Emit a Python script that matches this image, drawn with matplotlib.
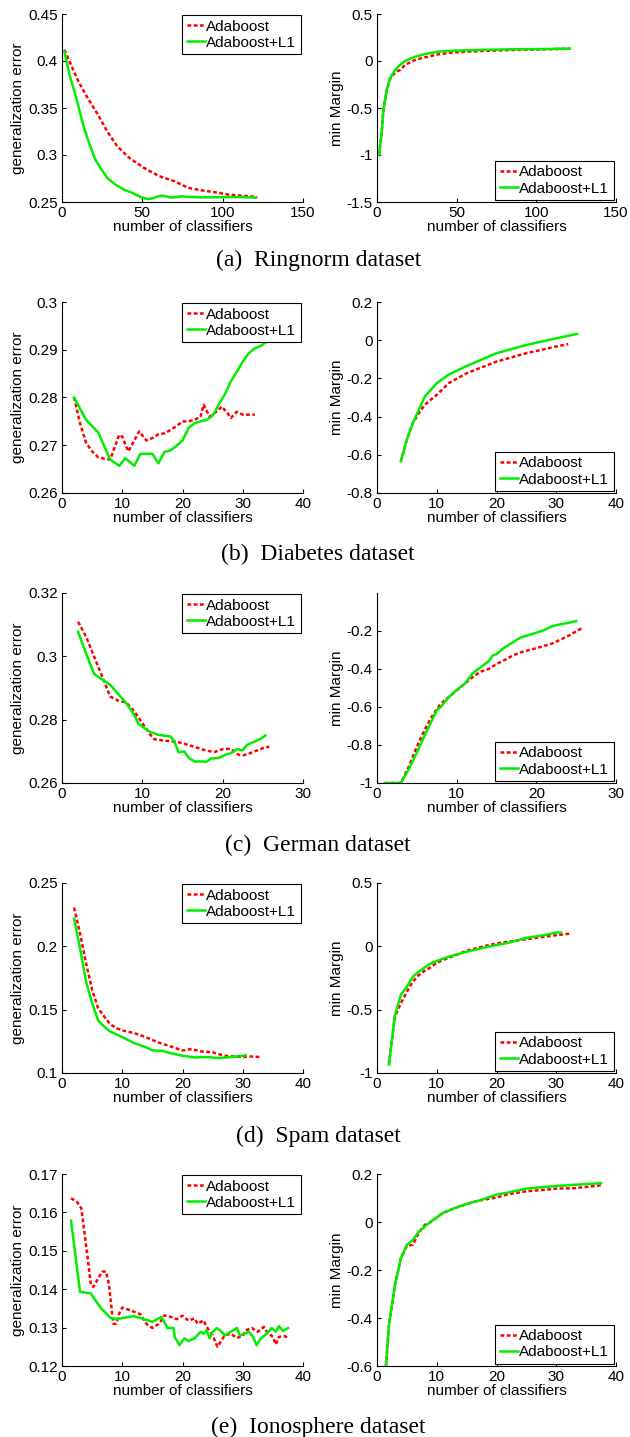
import matplotlib.pyplot as plt
from matplotlib.ticker import FormatStrFormatter

plt.rcParams['font.family'] = ['Liberation Sans', 'DejaVu Sans']

# (a) Ringnorm - generalization error
ring_err_ada_x = [1.5, 6.1, 10.3, 15.5, 21.8, 28.2, 34.5, 41.8, 51.3, 60.7, 70.2, 78.6, 87, 95.4, 103.8, 112, 121.6]
ring_err_ada = [0.412, 0.394, 0.378, 0.362, 0.3445, 0.325, 0.309, 0.297, 0.286, 0.2773, 0.272, 0.265, 0.2624, 0.2603, 0.2578, 0.2567, 0.2553]
ring_err_l1_x = [1.5, 5, 9.2, 13.4, 17.6, 20.8, 24, 28.2, 33.4, 38.7, 43.9, 49.2, 53.4, 56.5, 59.7, 62.8, 68, 74.4, 80.7, 87, 95.4, 103.8, 112, 120.6]
ring_err_l1 = [0.410, 0.3835, 0.3587, 0.3304, 0.309, 0.295, 0.2861, 0.2755, 0.2684, 0.2631, 0.2596, 0.255, 0.2532, 0.2539, 0.256, 0.2567, 0.2547, 0.256, 0.2553, 0.255, 0.255, 0.2553, 0.2553, 0.2546]
# (a) Ringnorm - min margin
ring_mar_ada_x = [1.3, 3, 4, 6.1, 8.2, 11.4, 14.6, 17.7, 24, 30.4, 38.8, 49.4, 66, 87, 108, 121]
ring_mar_ada = [-1.0, -0.75, -0.52, -0.31, -0.19, -0.12, -0.095, -0.04, 0.012, 0.04, 0.072, 0.093, 0.107, 0.118, 0.125, 0.132]
ring_mar_l1_x = [1.3, 3, 4, 6.1, 8.2, 11.4, 14.6, 17.7, 24, 30.4, 38.8, 49.4, 66, 87, 108, 121]
ring_mar_l1 = [-1.0, -0.75, -0.52, -0.307, -0.183, -0.095, -0.04, 0.001, 0.047, 0.075, 0.1, 0.11, 0.118, 0.125, 0.128, 0.132]

# (b) Diabetes
diab_err_ada_x = [2, 3, 4, 5, 6, 7, 8, 9, 9.5, 10, 11, 12, 12.8, 14, 15, 16, 17, 18, 19, 20, 21, 22, 23, 23.5, 24.5, 25, 26, 26.5, 27.5, 28, 29, 30, 31, 32]
diab_err_ada = [0.280, 0.2746, 0.2705, 0.2687, 0.2675, 0.2672, 0.267, 0.2705, 0.2722, 0.2718, 0.2687, 0.271, 0.2729, 0.271, 0.2715, 0.2723, 0.2725, 0.2732, 0.274, 0.275, 0.275, 0.2753, 0.276, 0.2785, 0.276, 0.2764, 0.2774, 0.2781, 0.2767, 0.2757, 0.277, 0.2764, 0.2764, 0.2764]
diab_err_l1_x = [2, 4, 6, 8, 9.5, 10.5, 12, 13, 15, 16, 17, 18, 19, 20, 21, 22, 23, 24, 25, 26, 27, 28, 29, 30, 31, 32, 33, 34]
diab_err_l1 = [0.280, 0.2753, 0.2727, 0.267, 0.2657, 0.2673, 0.2657, 0.2682, 0.2682, 0.2662, 0.2686, 0.2689, 0.2699, 0.271, 0.2736, 0.2746, 0.275, 0.2753, 0.2762, 0.2785, 0.2806, 0.2833, 0.2854, 0.2875, 0.2893, 0.2903, 0.2908, 0.2917]
diab_mar_ada_x = [4, 5, 6, 7, 8, 10, 12, 15, 20, 25, 30, 32]
diab_mar_ada = [-0.634, -0.52, -0.434, -0.382, -0.338, -0.286, -0.225, -0.173, -0.112, -0.068, -0.033, -0.02]
diab_mar_l1_x = [4, 5, 6, 7, 8, 10, 12, 15, 20, 25, 30, 33.5]
diab_mar_l1 = [-0.634, -0.52, -0.434, -0.364, -0.295, -0.225, -0.18, -0.135, -0.068, -0.025, 0.01, 0.033]

# (c) German
germ_err_ada_x = [2, 3, 4, 5, 6, 7, 8, 9, 10, 11, 11.5, 13, 14, 15, 16, 17, 18, 19, 20, 21, 22, 22.5, 23.5, 24, 25, 25.8]
germ_err_ada = [0.3109, 0.3062, 0.2999, 0.2936, 0.2873, 0.286, 0.2854, 0.2826, 0.2789, 0.2752, 0.2738, 0.2733, 0.2731, 0.2726, 0.2718, 0.271, 0.2702, 0.2698, 0.2707, 0.2708, 0.2689, 0.2687, 0.2695, 0.27, 0.271, 0.2715]
germ_err_l1_x = [2, 3, 4, 5, 6, 7, 8, 9, 9.5, 10, 11, 12, 13.5, 14, 14.5, 15.2, 15.8, 16.5, 17.5, 18, 18.5, 19.5, 20.5, 21, 21.8, 22.5, 23, 24, 24.8, 25.3]
germ_err_l1 = [0.3077, 0.3009, 0.2944, 0.2927, 0.291, 0.2881, 0.2852, 0.2815, 0.2787, 0.2778, 0.2761, 0.2752, 0.2747, 0.2731, 0.2697, 0.27, 0.2679, 0.2668, 0.2668, 0.2667, 0.2677, 0.2679, 0.2691, 0.2694, 0.2707, 0.2703, 0.272, 0.2731, 0.2741, 0.275]
germ_mar_ada_x = [1, 3, 4, 5, 6, 7, 8, 9, 10, 11, 12, 13, 14, 15, 16, 17, 18, 20, 22, 24, 25.8]
germ_mar_ada = [-1, -1, -0.913, -0.809, -0.718, -0.643, -0.583, -0.548, -0.513, -0.478, -0.443, -0.414, -0.4, -0.374, -0.353, -0.33, -0.313, -0.29, -0.266, -0.226, -0.183]
germ_mar_l1_x = [1, 3, 4, 5, 6, 7, 7.5, 8, 9, 10, 11, 11.5, 12, 13, 14, 14.5, 15, 16, 17, 18, 20, 21, 22, 23, 24, 25]
germ_mar_l1 = [-1, -1, -0.927, -0.84, -0.748, -0.661, -0.617, -0.6, -0.548, -0.51, -0.478, -0.452, -0.423, -0.391, -0.36, -0.33, -0.322, -0.287, -0.261, -0.235, -0.209, -0.195, -0.174, -0.165, -0.157, -0.148]

# (d) Spam
spam_err_ada_x = [2, 3, 4, 5, 6, 7, 8, 9, 10, 12, 14, 16, 18, 20, 21.5, 23, 25, 27, 28.5, 30, 31, 33]
spam_err_ada = [0.2306, 0.2101, 0.1865, 0.1656, 0.1511, 0.1446, 0.1385, 0.1354, 0.1336, 0.1315, 0.1281, 0.1241, 0.121, 0.1178, 0.1189, 0.1171, 0.1163, 0.1136, 0.1131, 0.1126, 0.1131, 0.1126]
spam_err_l1_x = [2, 3, 4, 5, 6, 7, 8, 10, 12, 14, 15, 16.5, 18, 20, 22, 24, 26, 28, 29, 30.5]
spam_err_l1 = [0.2219, 0.1983, 0.1721, 0.1551, 0.1414, 0.1367, 0.1328, 0.1283, 0.1236, 0.1202, 0.1178, 0.1176, 0.1157, 0.1136, 0.1123, 0.1126, 0.1118, 0.1126, 0.1131, 0.1139]
spam_mar_ada_x = [2, 3, 4, 5, 6, 7, 8, 9, 10, 12, 15, 18, 20, 22, 25, 28, 30, 32.5]
spam_mar_ada = [-0.926, -0.554, -0.449, -0.358, -0.279, -0.227, -0.192, -0.166, -0.129, -0.09, -0.035, 0.002, 0.023, 0.036, 0.057, 0.075, 0.088, 0.101]
spam_mar_l1_x = [2, 3, 4, 5, 6, 7, 8, 9, 10, 12, 15, 18, 20, 22, 25, 28, 30, 30.8]
spam_mar_l1 = [-0.934, -0.541, -0.384, -0.318, -0.24, -0.2, -0.166, -0.135, -0.116, -0.082, -0.043, -0.009, 0.01, 0.028, 0.067, 0.088, 0.109, 0.109]

# (e) Ionosphere
iono_err_ada_x = [1.5, 2.5, 3.2, 4.2, 4.8, 5.2, 6, 6.7, 7.3, 7.8, 8.5, 9, 9.5, 10, 11, 12, 13, 14, 15, 16, 16.5, 17, 18, 19, 20, 21, 22, 22.5, 23.5, 24, 25, 25.8, 26.5, 27, 28, 29, 30, 30.5, 31.5, 32.5, 33.5, 34, 35, 35.5, 36, 37, 37.5]
iono_err_ada = [0.1637, 0.1627, 0.1611, 0.1489, 0.1411, 0.1406, 0.1428, 0.1446, 0.1446, 0.1411, 0.131, 0.131, 0.1337, 0.1352, 0.1347, 0.1341, 0.1335, 0.131, 0.1299, 0.1309, 0.1319, 0.1332, 0.1328, 0.1322, 0.1331, 0.1318, 0.1324, 0.131, 0.1319, 0.1302, 0.128, 0.125, 0.1267, 0.128, 0.1284, 0.1273, 0.1278, 0.1293, 0.1299, 0.1289, 0.1302, 0.1289, 0.1276, 0.1256, 0.1276, 0.1278, 0.1272]
iono_err_l1_x = [1.5, 3, 4.8, 5.5, 6.5, 8, 9, 12, 15, 16.5, 17.5, 18.5, 18.7, 19.5, 20.3, 21, 22, 23, 23.5, 24, 24.5, 25, 25.7, 26.5, 27, 28, 29, 29.5, 30, 31, 31.7, 32.3, 33, 34, 34.8, 35.5, 36, 36.7, 37.5]
iono_err_l1 = [0.1578, 0.1393, 0.1389, 0.1372, 0.135, 0.1326, 0.1322, 0.133, 0.1315, 0.1328, 0.1299, 0.1299, 0.1276, 0.1254, 0.1272, 0.1265, 0.1272, 0.1289, 0.1284, 0.1293, 0.1272, 0.1289, 0.1299, 0.1289, 0.128, 0.1289, 0.1299, 0.128, 0.1282, 0.1289, 0.1276, 0.1254, 0.1272, 0.1284, 0.1299, 0.1289, 0.1304, 0.1291, 0.1299]
iono_mar_ada_x = [1.5, 2, 3, 4, 5, 6, 7, 8, 9, 10, 11, 13, 15, 17, 20, 22, 25, 28, 30, 33, 35, 37.5]
iono_mar_ada = [-0.6, -0.43, -0.263, -0.151, -0.1, -0.095, -0.045, -0.012, 0.0, 0.019, 0.037, 0.058, 0.075, 0.089, 0.102, 0.116, 0.128, 0.134, 0.139, 0.141, 0.146, 0.153]
iono_mar_l1_x = [1.5, 2, 3, 4, 5, 6, 7, 8, 9, 10, 11, 13, 15, 17, 20, 22, 25, 28, 30, 33, 35, 37.5]
iono_mar_l1 = [-0.6, -0.43, -0.263, -0.151, -0.095, -0.075, -0.04, -0.019, 0.002, 0.019, 0.037, 0.058, 0.075, 0.089, 0.114, 0.123, 0.139, 0.146, 0.15, 0.155, 0.158, 0.162]

captions = ['(a)  Ringnorm dataset', '(b)  Diabetes dataset', '(c)  German dataset',
            '(d)  Spam dataset', '(e)  Ionosphere dataset']
err_ylims = [(0.25, 0.45), (0.26, 0.30), (0.26, 0.32), (0.10, 0.25), (0.12, 0.17)]
err_yticks = [[0.25, 0.3, 0.35, 0.4, 0.45], [0.26, 0.27, 0.28, 0.29, 0.3], [0.26, 0.28, 0.3, 0.32],
              [0.1, 0.15, 0.2, 0.25], [0.12, 0.13, 0.14, 0.15, 0.16, 0.17]]
mar_ylims = [(-1.5, 0.5), (-0.8, 0.2), (-1.0, 0.0), (-1.0, 0.5), (-0.6, 0.2)]
mar_yticks = [[-1.5, -1, -0.5, 0, 0.5], [-0.8, -0.6, -0.4, -0.2, 0, 0.2], [-1, -0.8, -0.6, -0.4, -0.2],
              [-1, -0.5, 0, 0.5], [-0.6, -0.4, -0.2, 0, 0.2]]
xlims = [150, 40, 30, 40, 40]

err_data = [(ring_err_ada_x, ring_err_ada, ring_err_l1_x, ring_err_l1),
            (diab_err_ada_x, diab_err_ada, diab_err_l1_x, diab_err_l1),
            (germ_err_ada_x, germ_err_ada, germ_err_l1_x, germ_err_l1),
            (spam_err_ada_x, spam_err_ada, spam_err_l1_x, spam_err_l1),
            (iono_err_ada_x, iono_err_ada, iono_err_l1_x, iono_err_l1)]
mar_data = [(ring_mar_ada_x, ring_mar_ada, ring_mar_l1_x, ring_mar_l1),
            (diab_mar_ada_x, diab_mar_ada, diab_mar_l1_x, diab_mar_l1),
            (germ_mar_ada_x, germ_mar_ada, germ_mar_l1_x, germ_mar_l1),
            (spam_mar_ada_x, spam_mar_ada, spam_mar_l1_x, spam_mar_l1),
            (iono_mar_ada_x, iono_mar_ada, iono_mar_l1_x, iono_mar_l1)]

# axes edges in pixels (top, bottom) per row
row_px = [(14, 202), (302, 493), (593, 783), (883, 1073), (1174, 1366)]
caption_y = [260, 554, 845, 1136, 1427]
W, H = 630, 1437

fig = plt.figure(figsize=(W / 100, H / 100), dpi=100)


def style_axes(ax, xmax, ylim, yticks, ylabel):
    ax.set_xlim(0, xmax)
    ax.set_ylim(*ylim)
    ax.set_xticks(range(0, xmax + 1, 50 if xmax == 150 else 10))
    ax.set_yticks(yticks)
    ax.yaxis.set_major_formatter(FormatStrFormatter('%g'))
    ax.spines['top'].set_visible(False)
    ax.spines['right'].set_visible(False)
    ax.spines['left'].set_linewidth(0.8)
    ax.spines['bottom'].set_linewidth(0.8)
    ax.tick_params(direction='in', length=3, width=0.8, labelsize=11, pad=3)
    ax.set_xlabel('number of classifiers', fontsize=11, labelpad=0)
    ax.set_ylabel(ylabel, fontsize=11, labelpad=2)


def draw(ax, d, loc, anchor):
    ax.plot(d[0], d[1], color='#ff0000', lw=1.8, ls=(0, (1.5, 1.0)), label='Adaboost')
    ax.plot(d[2], d[3], color='#00ee00', lw=1.8, label='Adaboost+L1')
    leg = ax.legend(loc=loc, bbox_to_anchor=anchor, borderaxespad=0, fontsize=11,
                    handlelength=1.15, handletextpad=0.1, labelspacing=0.15,
                    borderpad=0.3, fancybox=False, framealpha=1, edgecolor='black')
    leg.get_frame().set_linewidth(0.8)


for i in range(5):
    top, bot = row_px[i]
    y0 = 1 - bot / H
    h = (bot - top) / H
    ax1 = fig.add_axes([62 / W, y0, 241 / W, h])
    draw(ax1, err_data[i], 'upper right', (0.99, 0.995))
    style_axes(ax1, xlims[i], err_ylims[i], err_yticks[i], 'generalization error')

    ax2 = fig.add_axes([377 / W, y0, 239 / W, h])
    draw(ax2, mar_data[i], 'lower right', (0.99, 0.01))
    style_axes(ax2, xlims[i], mar_ylims[i], mar_yticks[i], 'min Margin')

    fig.text(0.505, 1 - caption_y[i] / H, captions[i], ha='center', va='center',
             fontsize=17, family='Liberation Serif')

fig.savefig('out.png', dpi=100)
